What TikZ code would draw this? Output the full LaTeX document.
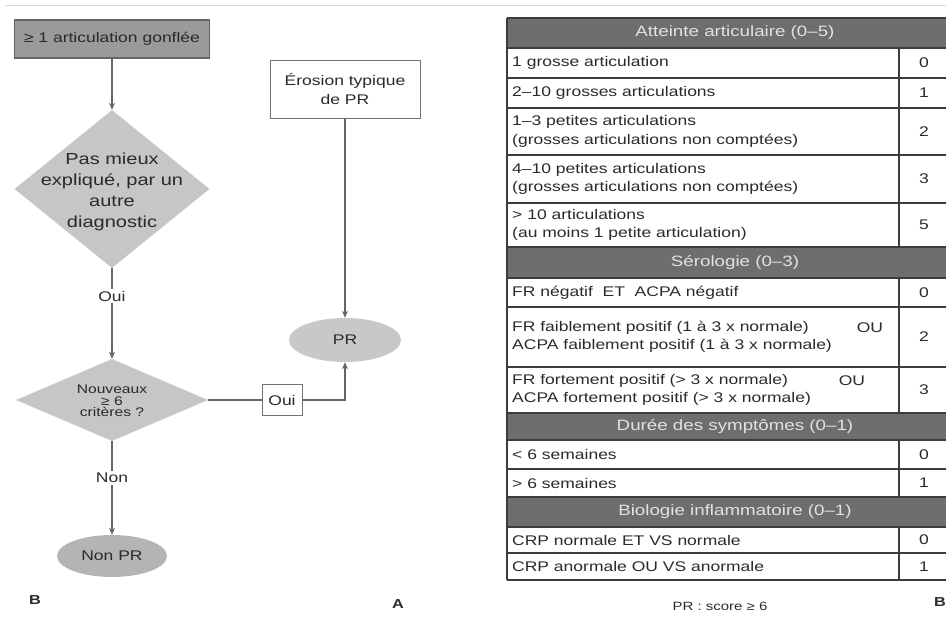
\documentclass[tikz,border=0pt]{standalone}
\usepackage{fontspec}
\setmainfont[FakeStretch=1.25]{Liberation Sans}
\usetikzlibrary{shapes.geometric,arrows.meta}
\definecolor{lineg}{HTML}{666666}
\definecolor{boxg}{HTML}{9A9A9A}
\definecolor{diag}{HTML}{C6C6C6}
\definecolor{ellg}{HTML}{C8C8C8}
\definecolor{ellgd}{HTML}{B4B4B4}
\definecolor{hdr}{HTML}{6E6E6E}
\definecolor{hdrtxt}{HTML}{E2E2E2}
\definecolor{txt}{HTML}{2A2A2A}
\definecolor{tline}{HTML}{3C3C3C}
\begin{document}
\begin{tikzpicture}[x=1pt,y=-1pt,
  ftext/.style={font=\fontsize{14}{19}\selectfont, text=txt, align=center},
  conn/.style={draw=lineg, line width=1.1pt},
  arr/.style={conn, -{Stealth[length=7pt,width=6pt]}},
  rowtext/.style={anchor=west, font=\fontsize{14}{18.5}\selectfont, text=txt, align=left, inner sep=0pt},
  valtext/.style={font=\fontsize{14}{18}\selectfont, text=txt, inner sep=0pt},
  hdrtext/.style={font=\fontsize{15}{16}\selectfont, text=hdrtxt, inner sep=0pt},
  tl/.style={draw=tline, line width=1.3pt}
]
\useasboundingbox (0,0) rectangle (946,624);
\draw[black!15, line width=0.8pt] (5,5) -- (946,5);

% ---------- flowchart ----------
\node[draw=black!60, fill=boxg, line width=1.2pt, minimum width=195pt, minimum height=38pt, ftext] (start) at (112,39) {≥ 1 articulation gonflée};
\node[diamond, fill=diag, minimum width=195pt, minimum height=158pt, inner sep=0pt] (d1) at (112,189) {};
\node[font=\fontsize{16}{21}\selectfont, text=txt, align=center] (d1t) at (112,191.5) {Pas mieux\\expliqué, par un\\autre\\diagnostic};
\node[ftext, fill=white, inner sep=2pt] (oui1) at (112,296) {Oui};
\node[diamond, fill=diag, minimum width=192pt, minimum height=82pt, inner sep=0pt] (d2) at (112,400) {};
\node[font=\fontsize{12.5}{11.5}\selectfont, text=txt, align=center] (d2t) at (112,401) {Nouveaux\\≥ 6\\critères ?};
\node[ftext, fill=white, inner sep=2pt] (non) at (112,478) {Non};
\node[ellipse, fill=ellgd, minimum width=110pt, minimum height=42pt, ftext] (nonpr) at (112,556) {Non PR};
\node[draw=black!55, fill=white, line width=1pt, minimum width=40pt, minimum height=31pt, ftext] (oui2) at (282,400) {Oui};
\node[ellipse, fill=ellg, minimum width=112pt, minimum height=44pt, ftext] (pr) at (345,340) {PR};
\node[draw=black!55, fill=white, line width=1pt, minimum width=150pt, minimum height=58pt, ftext] (eros) at (345,89) {Érosion typique\\de PR};

\draw[arr] (start) -- (d1);
\draw[conn] (d1) -- (oui1);
\draw[arr] (oui1) -- (d2);
\draw[conn] (d2) -- (non);
\draw[arr] (non) -- (nonpr);
\draw[conn] (d2.east) -- (oui2.west);
\draw[arr] (oui2.east) -| (pr.south);
\draw[arr] (eros.south) -- (pr.north);

\node[font=\bfseries\fontsize{13}{13}\selectfont, text=txt] (labL) at (35,600) {B};
\node[font=\bfseries\fontsize{13}{13}\selectfont, text=txt] (labA) at (398,604) {A};
\node[font=\bfseries\fontsize{13}{13}\selectfont, text=txt] (labB) at (940,602) {B};

% ---------- table ----------
\fill[hdr] (507,18) rectangle (960,48);
\fill[hdr] (507,247) rectangle (960,278);
\fill[hdr] (507,413) rectangle (960,440);
\fill[hdr] (507,497) rectangle (960,527);
\foreach \yy in {18,48,78,108,155,203,247,278,307,367,413,440,469,497,527,553,580}
  \draw[tl] (507,\yy) -- (960,\yy);
\draw[tl] (507,18) -- (507,580);
\draw[tl] (899,48) -- (899,247);
\draw[tl] (899,278) -- (899,413);
\draw[tl] (899,440) -- (899,497);
\draw[tl] (899,527) -- (899,580);

\node[hdrtext] (h1) at (735,33) {Atteinte articulaire (0–5)};
\node[hdrtext] (h2) at (735,262.5) {Sérologie (0–3)};
\node[hdrtext] (h3) at (735,426.5) {Durée des symptômes (0–1)};
\node[hdrtext] (h4) at (735,512) {Biologie inflammatoire (0–1)};

\node[rowtext] (r1) at (512,63) {1 grosse articulation};
\node[rowtext] (r2) at (512,93) {2–10 grosses articulations};
\node[rowtext] (r3) at (512,131.5) {1–3 petites articulations\\(grosses articulations non comptées)};
\node[rowtext] (r4) at (512,179) {4–10 petites articulations\\(grosses articulations non comptées)};
\node[rowtext] (r5) at (512,225) {> 10 articulations\\(au moins 1 petite articulation)};
\node[rowtext] (r6) at (512,292.5) {FR négatif \ ET \ ACPA négatif};
\node[rowtext] (r7) at (512,337) {FR faiblement positif (1 à 3 x normale)\\ACPA faiblement positif (1 à 3 x normale)};
\node[rowtext] (r8) at (512,390) {FR fortement positif (> 3 x normale)\\ACPA fortement positif (> 3 x normale)};
\node[rowtext] (r9) at (512,454.5) {< 6 semaines};
\node[rowtext] (r10) at (512,483) {> 6 semaines};
\node[rowtext] (r11) at (512,540) {CRP normale ET VS normale};
\node[rowtext] (r12) at (512,566.5) {CRP anormale OU VS anormale};
\node[valtext] (ou1) at (870,328) {OU};
\node[valtext] (ou2) at (852,381) {OU};

\node[valtext] (v1) at (924,63) {0};
\node[valtext] (v2) at (924,93) {1};
\node[valtext] (v3) at (924,131.5) {2};
\node[valtext] (v4) at (924,179) {3};
\node[valtext] (v5) at (924,225) {5};
\node[valtext] (v6) at (924,292.5) {0};
\node[valtext] (v7) at (924,337) {2};
\node[valtext] (v8) at (924,390) {3};
\node[valtext] (v9) at (924,454.5) {0};
\node[valtext] (v10) at (924,483) {1};
\node[valtext] (v11) at (924,540) {0};
\node[valtext] (v12) at (924,566.5) {1};

\node[font=\fontsize{12}{12}\selectfont, text=txt] (score) at (720,606) {PR : score ≥ 6};
\end{tikzpicture}
\end{document}
